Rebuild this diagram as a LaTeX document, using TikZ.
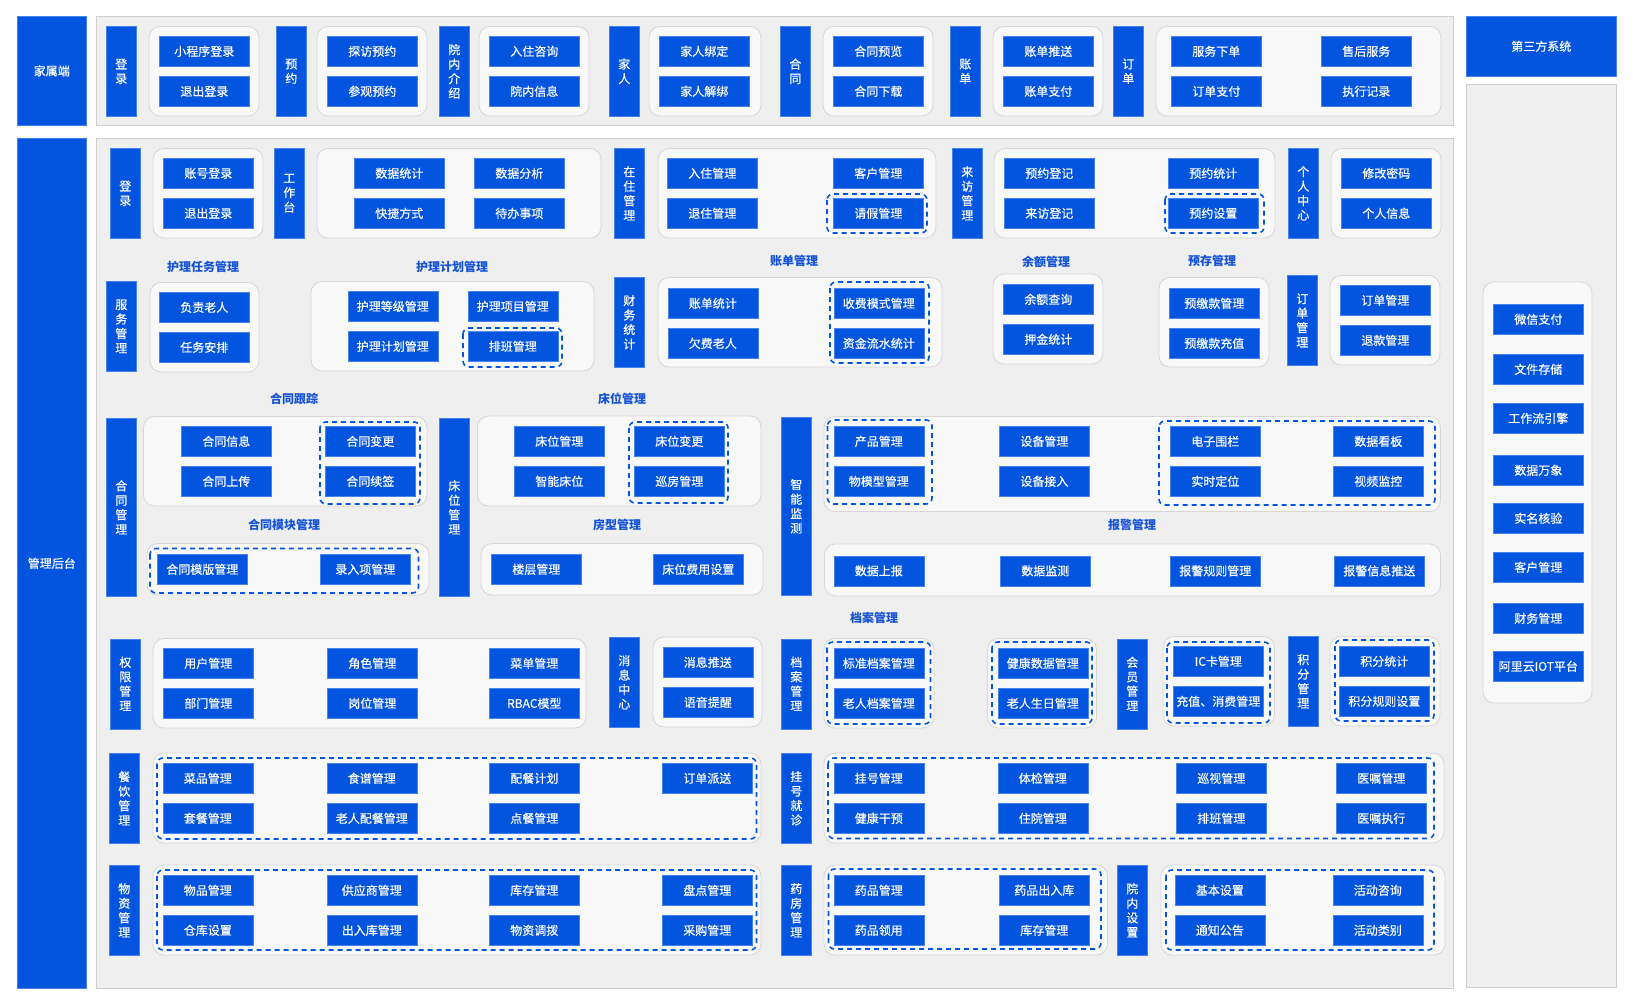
\documentclass[tikz,border=0pt]{standalone}
\usepackage{fontspec}
\setmainfont{Noto Sans CJK SC}
\newfontfamily\medfont[FakeBold=0.4]{Noto Sans CJK SC}
\definecolor{mainblue}{RGB}{3,84,222}
\definecolor{itemline}{RGB}{70,130,235}
\definecolor{panelfill}{RGB}{239,239,239}
\definecolor{panelline}{RGB}{206,206,206}
\definecolor{groupfill}{RGB}{248,248,248}
\definecolor{groupline}{RGB}{214,214,214}
\definecolor{ttlblue}{RGB}{20,82,214}
\begin{document}
\begin{tikzpicture}[x=1pt,y=-1pt,
  panel/.style={fill=panelfill,draw=panelline,line width=0.8pt},
  group/.style={fill=groupfill,draw=groupline,line width=0.8pt,rounded corners=11pt},
  dashgrp/.style={draw=mainblue,line width=1.6pt,dash pattern=on 5pt off 4pt,rounded corners=6pt},
  item/.style={fill=mainblue,draw=itemline,line width=0.6pt,text=white,anchor=north west,
    minimum width=90pt,minimum height=30pt,inner sep=0pt,font=\medfont\fontsize{12}{14}\selectfont},
  bar/.style={fill=mainblue,draw=itemline,line width=0.6pt,text=white,anchor=north west,
    minimum width=30pt,minimum height=90pt,inner sep=0pt,align=center,
    font=\medfont\fontsize{12}{14.5}\selectfont},
  big/.style={fill=mainblue,draw=itemline,line width=0.6pt,text=white,anchor=north west,
    inner sep=0pt,font=\medfont\fontsize{12}{14}\selectfont},
  ttl/.style={text=ttlblue,font=\fontsize{12}{14}\selectfont\bfseries,inner sep=0pt}]

\useasboundingbox (0,0) rectangle (1633,1005);
\fill[white] (0,0) rectangle (1633,1005);

% Panels
\draw[panel] (96,16) rectangle (1453,125);
\draw[panel] (96,138) rectangle (1453,988);
\draw[panel] (1466,84) rectangle (1616,987);
\node[big,minimum width=69pt,minimum height=109pt] (jsd) at (17,16) {家属端};
\node[big,minimum width=69pt,minimum height=850pt] (glht) at (17,138) {管理后台};
\node[big,minimum width=150pt,minimum height=60pt] (dsf) at (1466,16) {第三方系统};

% 家属端
\node[bar] (tDl) at (106,26) {登\\录};
\draw[group] (149,26.5) rectangle (259,116);
\node[item] (tDlA) at (159,36) {小程序登录};
\node[item] (tDlB) at (159,76) {退出登录};

\node[bar] (tYy) at (276,26) {预\\约};
\draw[group] (317,26.5) rectangle (427,116);
\node[item] (tYyA) at (327,36) {探访预约};
\node[item] (tYyB) at (327,76) {参观预约};

\node[bar] (tYn) at (439,26) {院\\内\\介\\绍};
\draw[group] (479,26.5) rectangle (589,116);
\node[item] (tYnA) at (489,36) {入住咨询};
\node[item] (tYnB) at (489,76) {院内信息};

\node[bar] (tJr) at (609,26) {家\\人};
\draw[group] (649,26.5) rectangle (761,116);
\node[item] (tJrA) at (659,36) {家人绑定};
\node[item] (tJrB) at (659,76) {家人解绑};

\node[bar] (tHt) at (780,26) {合\\同};
\draw[group] (823,26.5) rectangle (933,116);
\node[item] (tHtA) at (833,36) {合同预览};
\node[item] (tHtB) at (833,76) {合同下载};

\node[bar] (tZd) at (950,26) {账\\单};
\draw[group] (993,26.5) rectangle (1103,116);
\node[item] (tZdA) at (1003,36) {账单推送};
\node[item] (tZdB) at (1003,76) {账单支付};

\node[bar] (tDd) at (1113,26) {订\\单};
\draw[group] (1156,26.5) rectangle (1441,116);
\node[item] (tDdA) at (1171,36) {服务下单};
\node[item] (tDdB) at (1171,76) {订单支付};
\node[item] (tDdC) at (1321,36) {售后服务};
\node[item] (tDdD) at (1321,76) {执行记录};

% 管理后台: 第一行
\node[bar] (mDl) at (110,148) {登\\录};
\draw[group] (153,148.5) rectangle (263,238);
\node[item] (mDlA) at (163,158) {账号登录};
\node[item] (mDlB) at (163,198) {退出登录};

\node[bar] (mGzt) at (274,148) {工\\作\\台};
\draw[group] (317,148.5) rectangle (601,238);
\node[item] (mGztA) at (354,158) {数据统计};
\node[item] (mGztB) at (354,198) {快捷方式};
\node[item] (mGztC) at (474,158) {数据分析};
\node[item] (mGztD) at (474,198) {待办事项};

\node[bar] (mZz) at (614,148) {在\\住\\管\\理};
\draw[group] (658,148.5) rectangle (936,238);
\draw[dashgrp] (827,194) rectangle (927,233);
\node[item] (mZzA) at (667,158) {入住管理};
\node[item] (mZzB) at (667,198) {退住管理};
\node[item] (mZzC) at (833,158) {客户管理};
\node[item] (mZzD) at (833,198) {请假管理};

\node[bar] (mLf) at (952,148) {来\\访\\管\\理};
\draw[group] (994,148.5) rectangle (1275,238);
\draw[dashgrp] (1165,194) rectangle (1264,233);
\node[item] (mLfA) at (1004,158) {预约登记};
\node[item] (mLfB) at (1004,198) {来访登记};
\node[item] (mLfC) at (1168,158) {预约统计};
\node[item] (mLfD) at (1168,198) {预约设置};

\node[bar] (mGr) at (1288,148) {个\\人\\中\\心};
\draw[group] (1331,148.5) rectangle (1441,238);
\node[item] (mGrA) at (1341,158) {修改密码};
\node[item] (mGrB) at (1341,198) {个人信息};

% 第二行
\node[ttl] (tNrw) at (203,267) {护理任务管理};
\node[ttl] (tNjh) at (452,267) {护理计划管理};
\node[ttl] (tZdgl) at (794,261) {账单管理};
\node[ttl] (tYe) at (1046,262) {余额管理};
\node[ttl] (tYc) at (1212,261) {预存管理};

\node[bar] (mFw) at (106,281) {服\\务\\管\\理};
\draw[group] (150,282.5) rectangle (259,372);
\node[item] (mFwA) at (159,292) {负责老人};
\node[item] (mFwB) at (159,332) {任务安排};

\draw[group] (311,281.5) rectangle (594,371);
\draw[dashgrp] (463,328) rectangle (562,367);
\node[item] (mNjA) at (347.5,291) {护理等级管理};
\node[item] (mNjB) at (347.5,331) {护理计划管理};
\node[item] (mNjC) at (467.5,291) {护理项目管理};
\node[item] (mNjD) at (467.5,331) {排班管理};

\node[bar] (mCw) at (614,277) {财\\务\\统\\计};
\draw[group] (658,277.5) rectangle (942,367);
\draw[dashgrp] (830,282) rectangle (929,363);
\node[item] (mCwA) at (667.5,288) {账单统计};
\node[item] (mCwB) at (667.5,328) {欠费老人};
\node[item] (mCwC) at (833.5,288) {收费模式管理};
\node[item] (mCwD) at (833.5,328) {资金流水统计};

\draw[group] (993,274) rectangle (1103,364);
\node[item] (mYeA) at (1003,284) {余额查询};
\node[item] (mYeB) at (1003,324) {押金统计};

\draw[group] (1159,277.5) rectangle (1269,367);
\node[item] (mYcA) at (1169,288) {预缴款管理};
\node[item] (mYcB) at (1169,328) {预缴款充值};

\node[bar] (mDd) at (1287,275) {订\\单\\管\\理};
\draw[group] (1330,275.5) rectangle (1440,365);
\node[item] (mDdA) at (1340,285) {订单管理};
\node[item] (mDdB) at (1340,325) {退款管理};

% 第三行
\node[ttl] (tHtgz) at (294,399) {合同跟踪};
\node[ttl] (tHtmk) at (284,525) {合同模块管理};
\node[ttl] (tCw) at (622,399) {床位管理};
\node[ttl] (tFx) at (617,525) {房型管理};
\node[ttl] (tBj) at (1132,525) {报警管理};

\node[bar,minimum height=178pt] (mHt) at (106,418) {合\\同\\管\\理};
\draw[group] (143.5,416.5) rectangle (427,506);
\draw[dashgrp] (320,422) rectangle (420,504);
\node[item] (mHtA) at (181,426) {合同信息};
\node[item] (mHtB) at (181,466) {合同上传};
\node[item] (mHtC) at (325,426) {合同变更};
\node[item] (mHtD) at (325,466) {合同续签};
\draw[group] (147,543.5) rectangle (429,595);
\draw[dashgrp] (150,548.5) rectangle (418.5,593);
\node[item] (mHtE) at (157,554) {合同模版管理};
\node[item] (mHtF) at (320,554) {录入项管理};

\node[bar,minimum height=178pt] (mCwgl) at (439,418) {床\\位\\管\\理};
\draw[group] (477.5,416) rectangle (761,506);
\draw[dashgrp] (629,422) rectangle (728,503);
\node[item] (mCwgA) at (514,426) {床位管理};
\node[item] (mCwgB) at (514,466) {智能床位};
\node[item] (mCwgC) at (634,426) {床位变更};
\node[item] (mCwgD) at (634,466) {巡房管理};
\draw[group] (481,543.5) rectangle (763,595);
\node[item] (mCwgE) at (491,554) {楼层管理};
\node[item] (mCwgF) at (653,554) {床位费用设置};

\node[bar,minimum height=178pt] (mZn) at (781,417) {智\\能\\监\\测};
\draw[group] (824,416.5) rectangle (1440.5,511.5);
\draw[dashgrp] (827.5,420) rectangle (932,504);
\draw[dashgrp] (1159,421) rectangle (1435,505);
\node[item] (mZnA) at (833.5,426) {产品管理};
\node[item] (mZnB) at (833.5,466) {物模型管理};
\node[item] (mZnC) at (999,426) {设备管理};
\node[item] (mZnD) at (999,466) {设备接入};
\node[item] (mZnE) at (1170,426) {电子围栏};
\node[item] (mZnF) at (1170,466) {实时定位};
\node[item] (mZnG) at (1333,426) {数据看板};
\node[item] (mZnH) at (1333,466) {视频监控};
\draw[group] (824.5,544) rectangle (1440.5,596);
\node[item] (mBjA) at (833.5,555.5) {数据上报};
\node[item] (mBjB) at (1000,555.5) {数据监测};
\node[item] (mBjC) at (1170,555.5) {报警规则管理};
\node[item] (mBjD) at (1334,555.5) {报警信息推送};

% 第四行
\node[ttl] (tDa) at (874,618) {档案管理};

\node[bar] (mQx) at (110,638.5) {权\\限\\管\\理};
\draw[group] (153,638.5) rectangle (586,728);
\node[item] (mQxA) at (163,648) {用户管理};
\node[item] (mQxB) at (163,688) {部门管理};
\node[item] (mQxC) at (327,648) {角色管理};
\node[item] (mQxD) at (327,688) {岗位管理};
\node[item] (mQxE) at (489,648) {菜单管理};
\node[item] (mQxF) at (489,688) {RBAC模型};

\node[bar] (mXx) at (609,637) {消\\息\\中\\心};
\draw[group] (653,637) rectangle (762,727);
\node[item] (mXxA) at (662.5,647) {消息推送};
\node[item] (mXxB) at (662.5,687) {语音提醒};

\node[bar] (mDa) at (781,638.5) {档\\案\\管\\理};
\draw[group] (824,638.5) rectangle (934,728);
\draw[dashgrp] (827,642) rectangle (930.5,724);
\node[item] (mDaA) at (833.5,648) {标准档案管理};
\node[item] (mDaB) at (833.5,688) {老人档案管理};
\draw[group] (987.5,638.5) rectangle (1096.5,728);
\draw[dashgrp] (992,642) rectangle (1092,724);
\node[item] (mDaC) at (997.5,648) {健康数据管理};
\node[item] (mDaD) at (997.5,688) {老人生日管理};

\node[bar] (mHy) at (1117,638.5) {会\\员\\管\\理};
\draw[group] (1163,636.5) rectangle (1274.5,726);
\draw[dashgrp] (1167,642) rectangle (1270,723);
\node[item] (mHyA) at (1173,646) {IC卡管理};
\node[item] (mHyB) at (1173,686) {充值、消费管理};

\node[bar] (mJf) at (1288,636) {积\\分\\管\\理};
\draw[group] (1330,636.5) rectangle (1440,726);
\draw[dashgrp] (1335,640) rectangle (1434,721);
\node[item] (mJfA) at (1339,646) {积分统计};
\node[item] (mJfB) at (1339,686) {积分规则设置};

% 第五行
\node[bar] (mCy) at (109,753) {餐\\饮\\管\\理};
\draw[group] (153,753) rectangle (761,843);
\draw[dashgrp] (157,758) rectangle (756.5,839);
\node[item] (mCyA) at (162.5,763) {菜品管理};
\node[item] (mCyB) at (162.5,803) {套餐管理};
\node[item] (mCyC) at (326.5,763) {食谱管理};
\node[item] (mCyD) at (326.5,803) {老人配餐管理};
\node[item] (mCyE) at (489,763) {配餐计划};
\node[item] (mCyF) at (489,803) {点餐管理};
\node[item] (mCyG) at (662,763) {订单派送};

\node[bar] (mGh) at (781,753) {挂\\号\\就\\诊};
\draw[group] (824,753) rectangle (1444,843);
\draw[dashgrp] (828,758) rectangle (1434,838.5);
\node[item] (mGhA) at (833.5,763) {挂号管理};
\node[item] (mGhB) at (833.5,803) {健康干预};
\node[item] (mGhC) at (997.5,763) {体检管理};
\node[item] (mGhD) at (997.5,803) {住院管理};
\node[item] (mGhE) at (1176,763) {巡视管理};
\node[item] (mGhF) at (1176,803) {排班管理};
\node[item] (mGhG) at (1336,763) {医嘱管理};
\node[item] (mGhH) at (1336,803) {医嘱执行};

% 第六行
\node[bar] (mWz) at (109,865) {物\\资\\管\\理};
\draw[group] (153,865) rectangle (761,955);
\draw[dashgrp] (157,870) rectangle (756.5,950);
\node[item] (mWzA) at (162.5,875) {物品管理};
\node[item] (mWzB) at (162.5,915) {仓库设置};
\node[item] (mWzC) at (326.5,875) {供应商管理};
\node[item] (mWzD) at (326.5,915) {出入库管理};
\node[item] (mWzE) at (489,875) {库存管理};
\node[item] (mWzF) at (489,915) {物资调拨};
\node[item] (mWzG) at (662,875) {盘点管理};
\node[item] (mWzH) at (662,915) {采购管理};

\node[bar] (mYf) at (781,865) {药\\房\\管\\理};
\draw[group] (824,865) rectangle (1107.5,955);
\draw[dashgrp] (828.5,869) rectangle (1101,949);
\node[item] (mYfA) at (833.5,875) {药品管理};
\node[item] (mYfB) at (833.5,915) {药品领用};
\node[item] (mYfC) at (999,875) {药品出入库};
\node[item] (mYfD) at (999,915) {库存管理};

\node[bar] (mYs) at (1117,865) {院\\内\\设\\置};
\draw[group] (1161,865) rectangle (1445,955);
\draw[dashgrp] (1166,870) rectangle (1434,950);
\node[item] (mYsA) at (1174.5,875) {基本设置};
\node[item] (mYsB) at (1174.5,915) {通知公告};
\node[item] (mYsC) at (1332.5,875) {活动咨询};
\node[item] (mYsD) at (1332.5,915) {活动类别};

% 第三方系统
\draw[group] (1483,282) rectangle (1592,703);
\node[item] (sWx) at (1493,304) {微信支付};
\node[item] (sWj) at (1493,354) {文件存储};
\node[item] (sGzl) at (1493,403) {工作流引擎};
\node[item] (sSj) at (1493,455) {数据万象};
\node[item] (sSm) at (1493,503) {实名核验};
\node[item] (sKh) at (1493,552) {客户管理};
\node[item] (sCw) at (1493,603) {财务管理};
\node[item] (sIot) at (1493,651) {阿里云IOT平台};

\end{tikzpicture}
\end{document}
